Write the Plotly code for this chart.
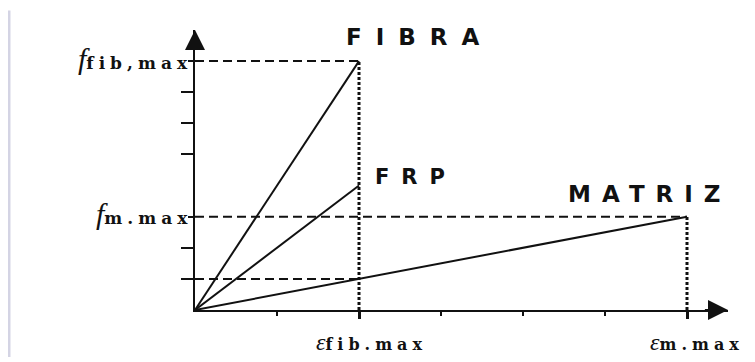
import plotly.graph_objects as go

# --- data (schematic units) ---
strain_ticks = [1, 2, 3, 4, 5, 6]
stress_ticks_long = [1, 2, 5, 6, 7]
stress_ticks_short = [3, 8]
eps_fib_max = 2
eps_m_max = 6
f_fib_max = 8
f_frp_max = 4
f_m_max = 3
f_m_at_eps_fib = 1

series_names = ["FIBRA", "FRP", "MATRIZ"]
series_x = [[0, eps_fib_max], [0, eps_fib_max], [0, eps_m_max]]
series_y = [[0, f_fib_max], [0, f_frp_max], [0, f_m_max]]

x_label_main = ["ε", "ε"]
x_label_sub = ["fib.max", "m.max"]
y_label_main = ["f", "f"]
y_label_sub = ["fib,max", "m.max"]

INK = "#111111"
fig = go.Figure()

for name, xs, ys in zip(series_names, series_x, series_y):
    fig.add_trace(go.Scatter(x=xs, y=ys, mode="lines", name=name,
                             line=dict(color=INK, width=2), showlegend=False,
                             hoverinfo="skip"))

for yv, xe in [(f_fib_max, eps_fib_max), (f_m_max, eps_m_max), (f_m_at_eps_fib, eps_fib_max)]:
    fig.add_trace(go.Scatter(x=[0, xe], y=[yv, yv], mode="lines",
                             line=dict(color=INK, width=2, dash="9px,5px"),
                             showlegend=False, hoverinfo="skip"))

for xv, ye in [(eps_fib_max, f_fib_max), (eps_m_max, f_m_max)]:
    fig.add_trace(go.Scatter(x=[xv, xv], y=[0, ye], mode="lines",
                             line=dict(color=INK, width=3, dash="3px,2px"),
                             showlegend=False, hoverinfo="skip"))

ann = []
ann.append(dict(x=6.5, y=0, ax=6.2, ay=0, xref="x", yref="y", axref="x", ayref="y",
                text="", showarrow=True, arrowhead=2, arrowsize=2, arrowwidth=2,
                arrowcolor=INK, standoff=0))
ann.append(dict(x=0, y=9, ax=0, ay=8.4, xref="x", yref="y", axref="x", ayref="y",
                text="", showarrow=True, arrowhead=2, arrowsize=2, arrowwidth=2,
                arrowcolor=INK, standoff=0))

sans = "DejaVu Sans, Liberation Sans, sans-serif"
ann.append(dict(x=eps_fib_max, y=f_fib_max, xref="x", yref="y", xanchor="left", yanchor="bottom",
                xshift=-15, yshift=9, showarrow=False,
                text='<b><span style="letter-spacing:14px">FIBRA</span></b>',
                font=dict(family=sans, size=23, color=INK)))
ann.append(dict(x=eps_fib_max, y=f_frp_max, xref="x", yref="y", xanchor="left", yanchor="bottom",
                xshift=14, yshift=-5, showarrow=False,
                text='<b><span style="letter-spacing:12px">FRP</span></b>',
                font=dict(family=sans, size=21, color=INK)))
ann.append(dict(x=eps_m_max, y=f_m_max, xref="x", yref="y", xanchor="left", yanchor="bottom",
                xshift=-121, yshift=8, showarrow=False,
                text='<b><span style="letter-spacing:11px">MATRIZ</span></b>',
                font=dict(family=sans, size=23, color=INK)))

serif = "DejaVu Serif, Liberation Serif, serif"
for yv, m, s in zip([f_fib_max, f_m_max], y_label_main, y_label_sub):
    txt = ('<span style="font-size:30px;font-family:Liberation Serif"><i>' + m + '</i></span>'
           '<b><span style="letter-spacing:5px">' + s + '</span></b>')
    ann.append(dict(x=0, y=yv, xref="paper", yref="y", xanchor="right", yanchor="middle",
                    xshift=-1, yshift=3, showarrow=False, text=txt,
                    font=dict(family=serif, size=17, color=INK)))
for xv, m, s, xs in zip([eps_fib_max, eps_m_max], x_label_main, x_label_sub, [12, 10]):
    txt = ('<span style="font-size:24px;font-family:Liberation Serif"><i>' + m + '</i></span>'
           '<b><span style="letter-spacing:5px">' + s + '</span></b>')
    ann.append(dict(x=xv, y=0, xref="x", yref="paper", xanchor="center", yanchor="top",
                    xshift=xs, yshift=-17, showarrow=False, text=txt,
                    font=dict(family=serif, size=16, color=INK)))

# figure sits 8px in from the page corner (default body margin)
fig.update_layout(
    width=747, height=354,
    margin=dict(l=187, r=27, t=22, b=52),
    paper_bgcolor="white", plot_bgcolor="white",
    annotations=ann,
    shapes=[dict(type="line", xref="paper", yref="paper", x0=-0.349, x1=-0.349,
                 y0=-0.168, y1=1.07, line=dict(color="#d4d4e4", width=3))],
)
fig.update_xaxes(range=[0, 6.5], showgrid=False, zeroline=False, showline=True,
                 linecolor=INK, linewidth=2, ticks="outside",
                 tickvals=[eps_fib_max, eps_m_max], ticklen=7, tickwidth=3,
                 tickcolor=INK, showticklabels=False,
                 minor=dict(tickvals=[1, 3, 4, 5], ticks="outside", ticklen=4,
                            tickwidth=2, tickcolor=INK, showgrid=False))
fig.update_yaxes(range=[0, 9], showgrid=False, zeroline=False, showline=True,
                 linecolor=INK, linewidth=2, ticks="outside",
                 tickvals=stress_ticks_long, ticklen=12, tickwidth=2,
                 tickcolor=INK, showticklabels=False,
                 minor=dict(tickvals=stress_ticks_short, ticks="outside", ticklen=5,
                            tickwidth=2, tickcolor=INK, showgrid=False))

fig.write_html("out.html")
